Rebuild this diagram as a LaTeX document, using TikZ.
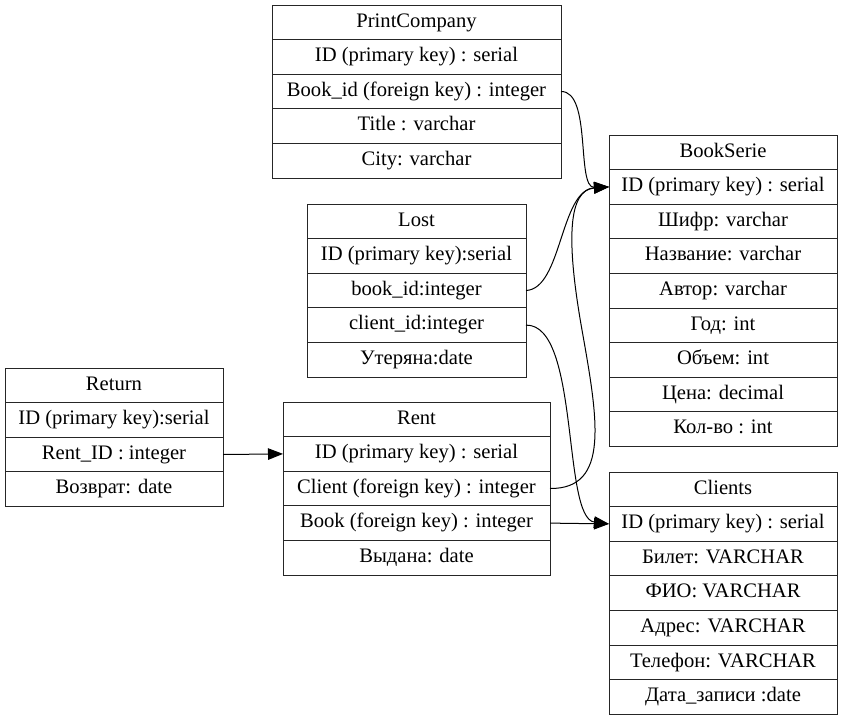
\documentclass[tikz,border=0pt]{standalone}
\usepackage{fontspec}
\setmainfont{Liberation Serif}
\usetikzlibrary{arrows.meta}
\tikzset{
  every node/.style={font=\fontsize{20.6}{23}\selectfont, text=black},
  erField/.style={rectangle, draw=black!85, line width=1pt, minimum height=34.6pt,
    inner sep=0pt, outer sep=0pt, align=center, text height=0.95em,
    text depth=0em},
  erLink/.style={-{Triangle[length=15pt,width=11.5pt]}, line width=1pt, color=black},
}
% #1 name, #2 left, #3 top, #4 width, #5 rows (title first)
\newcommand{\erTable}[5]{%
  \foreach \txt [count=\k from 0] in {#5} {
    \node[erField, minimum width=#4pt] (#1-\k) at (#2+#4/2, #3+17.3+34.6*\k) {\txt};
  }
}

\begin{document}
\begin{tikzpicture}[x=1pt,y=-1pt]
  \useasboundingbox (0,0) rectangle (843,721);

  % Tables.
  \erTable{print}{272}{5}{289}{PrintCompany, ID (primary key) : serial,
    Book\_id (foreign key) : integer, Title : varchar, City: varchar}
  \erTable{serie}{609}{135}{228}{BookSerie, ID (primary key) : serial,
    Шифр: varchar, Название: varchar, Автор: varchar, Год: int,
    Объем: int, Цена: decimal, Кол-во : int}
  \erTable{lost}{307}{204}{219}{Lost, ID (primary key):serial,
    book\_id:integer, client\_id:integer, Утеряна:date}
  \erTable{ret}{5}{368}{218}{Return, ID (primary key):serial,
    Rent\_ID : integer, Возврат: date}
  \erTable{rent}{283}{402}{267}{Rent, ID (primary key) : serial,
    Client (foreign key) : integer, Book (foreign key) : integer,
    Выдана: date}
  \erTable{client}{609}{472}{228}{Clients, ID (primary key) : serial,
    Билет: VARCHAR, ФИО: VARCHAR, Адрес: VARCHAR, Телефон: VARCHAR,
    Дата\_записи :date}

  % Foreign keys.
  \draw[erLink] (print-2.east)
    .. controls (592,91) and (576,188) .. (serie-1.west);
  \draw[erLink] (lost-2.east)
    .. controls (562,289) and (560,190) .. (serie-1.west);
  \draw[erLink] (rent-2.east)
    .. controls (610,489) and (598,420) .. (582,330)
    .. controls (566,240) and (568,190) .. (serie-1.west);
  \draw[erLink] (lost-3.east)
    .. controls (580,324) and (562,518) .. (client-1.west);
  \draw[erLink] (rent-3.east) -- (client-1.west);
  \draw[erLink] (ret-2.east) -- (rent-1.west);
\end{tikzpicture}
\end{document}
